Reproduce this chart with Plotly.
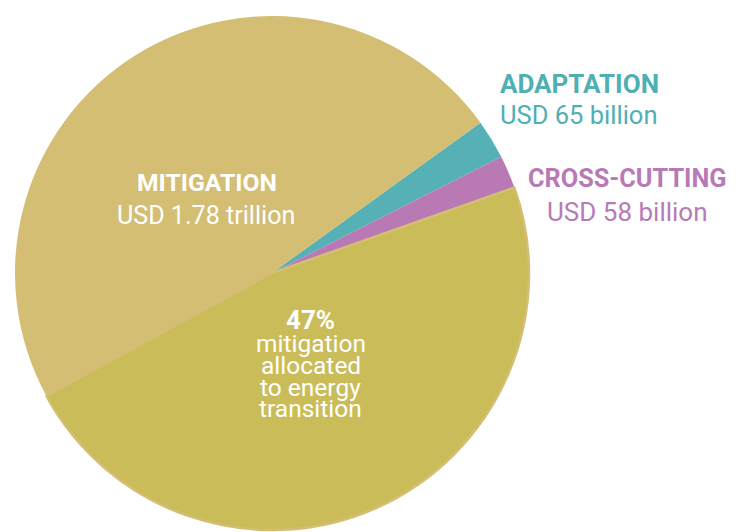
import plotly.graph_objects as go

W, H = 742, 532

# Slice shares (percent of the circle), clockwise from the teal slice
slice_names = ["Adaptation", "Cross-cutting", "Mitigation: energy transition", "Mitigation: other"]
slice_shares = [2.48, 2.07, 47.45, 48.0]
slice_colors = ["#55B1B5", "#B979B5", "#CABC58", "#D4BE73"]

# Label texts
adapt_title, adapt_value = "ADAPTATION", "USD 65 billion"
cross_title, cross_value = "CROSS-CUTTING", "USD 58 billion"
mitig_title, mitig_value = "MITIGATION", "USD 1.78 trillion"
energy_pct = "47%"
energy_lines = ["mitigation", "allocated", "to energy", "transition"]

FONT = "Roboto"

def px(x):
    return x / W

def py(y):
    return 1 - y / H

cx, cy, r = 272, 273, 257

fig = go.Figure(go.Pie(
    labels=slice_names,
    values=slice_shares,
    sort=False,
    direction="clockwise",
    rotation=54.2,
    marker=dict(colors=slice_colors,
                line=dict(color=["rgba(0,0,0,0)", "rgba(0,0,0,0)", "#D4BE73", "rgba(0,0,0,0)"],
                          width=[0, 0, 2.5, 0])),
    textinfo="none",
    hoverinfo="none",
    showlegend=False,
    domain=dict(x=[px(cx - r), px(cx + r)], y=[py(cy + r), py(cy - r)]),
))

ann = []

def add(text, x, y, size, color, bold=False, xanchor="center"):
    t = f"<b>{text}</b>" if bold else text
    ann.append(dict(text=t, x=px(x), y=py(y), xref="paper", yref="paper",
                    xanchor=xanchor, yanchor="middle", showarrow=False, borderpad=0,
                    font=dict(family=FONT, size=size, color=color)))

teal_txt = "#4FAFB3"
purple_txt = "#B87AB6"
add(adapt_title, 499, 84, 26, teal_txt, bold=True, xanchor="left")
add(adapt_value, 499, 114.5, 25.5, teal_txt, xanchor="left")
add(cross_title, 627, 178.5, 25.3, purple_txt, bold=True)
add(cross_value, 627, 212, 26, purple_txt)
add(mitig_title, 207, 182.5, 24.7, "white", bold=True)
add(mitig_value, 206, 215.5, 25.1, "white")
add(energy_pct, 310, 320, 26, "white", bold=True)
for i, line in enumerate(energy_lines):
    add(line, 310.5, 343.5 + i * 21.8, 24.5, "white")

fig.update_layout(
    width=W, height=H,
    margin=dict(l=0, r=0, t=0, b=0),
    paper_bgcolor="white",
    plot_bgcolor="white",
    annotations=ann,
)

fig.write_html("out.html", config={"displayModeBar": False},
               post_script="document.body.style.margin='0';")
